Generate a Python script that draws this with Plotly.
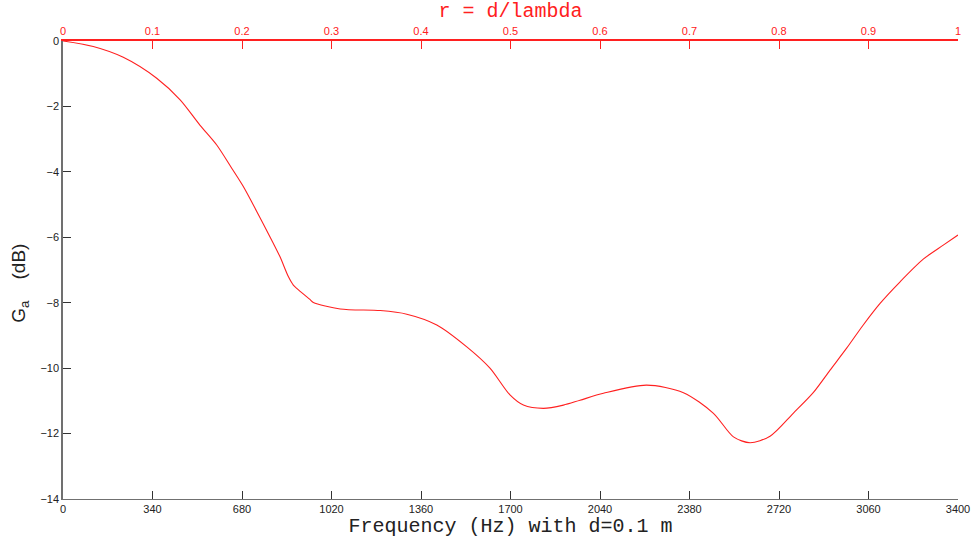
import plotly.graph_objects as go

# Data
freq_hz = [0, 115, 229, 356, 445, 520, 584, 641, 685, 736, 786, 824, 856, 875, 888,
           938, 951, 1053, 1205, 1306, 1420, 1534, 1622, 1698, 1749, 1825, 1901, 1964,
           2053, 2217, 2357, 2471, 2547, 2610, 2686, 2774, 2850, 2914, 2977, 3040,
           3104, 3180, 3268, 3344, 3400]
gain_db = [0, -0.17, -0.50, -1.14, -1.80, -2.57, -3.18, -3.89, -4.45, -5.21, -5.98,
           -6.59, -7.20, -7.46, -7.56, -7.90, -7.99, -8.19, -8.24, -8.35, -8.68, -9.35,
           -10.0, -10.82, -11.13, -11.23, -11.13, -10.98, -10.77, -10.52, -10.75,
           -11.38, -12.1, -12.28, -12.08, -11.38, -10.75, -10.06, -9.39, -8.68, -8.02,
           -7.36, -6.67, -6.24, -5.93]

x_ticks = [0, 340, 680, 1020, 1360, 1700, 2040, 2380, 2720, 3060, 3400]
y_ticks = [0, -2, -4, -6, -8, -10, -12, -14]
r_ticks = [0, 0.1, 0.2, 0.3, 0.4, 0.5, 0.6, 0.7, 0.8, 0.9, 1]
r_tick_text = ["0", "0.1", "0.2", "0.3", "0.4", "0.5", "0.6", "0.7", "0.8", "0.9", "1"]

RED = "#ff2020"
GRAY = "#707070"
MONO = "Liberation Mono, Courier New, monospace"

fig = go.Figure()
fig.add_trace(go.Scatter(x=freq_hz, y=gain_db, mode="lines",
                         line=dict(color=RED, width=1.1, shape="spline", smoothing=0.8),
                         showlegend=False, hoverinfo="x+y"))
# invisible trace to anchor the top r axis
fig.add_trace(go.Scatter(x=[r_ticks[0], r_ticks[-1]], y=[y_ticks[0], y_ticks[0]],
                         xaxis="x2", mode="lines", line=dict(color="rgba(0,0,0,0)"),
                         showlegend=False, hoverinfo="skip"))

fig.update_layout(
    width=975, height=543,
    margin=dict(l=63, r=17, t=41, b=44),
    plot_bgcolor="white", paper_bgcolor="white",
    font=dict(family="Liberation Sans, Arial, sans-serif", size=11, color="#222"),
    xaxis=dict(
        range=[0, 3400], tickvals=x_ticks, ticktext=[str(v) for v in x_ticks],
        showgrid=False, zeroline=False, showline=True, linecolor=GRAY, linewidth=1,
        ticks="inside", ticklen=8, tickcolor="#333", tickwidth=1,
        tickfont=dict(size=11, color="#222"), automargin=False,
        title=dict(text="Frequency (Hz) with d=0.1 m",
                   font=dict(family=MONO, size=20, color="#222"), standoff=3),
    ),
    xaxis2=dict(
        range=[0, 1], overlaying="x", side="top", anchor="y",
        tickvals=r_ticks, ticktext=r_tick_text,
        showgrid=False, zeroline=False, showline=True, linecolor=RED, linewidth=1.5,
        ticks="inside", ticklen=8, tickcolor=RED, tickwidth=1,
        tickfont=dict(size=11, color=RED), automargin=False,
        title=dict(text="r = d/lambda",
                   font=dict(family=MONO, size=20, color=RED), standoff=2),
    ),
    yaxis=dict(
        range=[-14, 0], tickvals=y_ticks, ticktext=[str(v).replace("-", "\u2212") for v in y_ticks],
        showgrid=False, zeroline=False, showline=True, linecolor=GRAY, linewidth=1.5,
        ticks="inside", ticklen=8, tickcolor="#333", tickwidth=1,
        tickfont=dict(size=11, color="#222"), automargin=False,
        title=dict(text="G<sub>a</sub>&nbsp;&nbsp;&nbsp;&nbsp;(dB)&nbsp;&nbsp;&nbsp;&nbsp;&nbsp;",
                   font=dict(family="Liberation Sans, Arial, sans-serif", size=19, color="#222"),
                   standoff=10),
    ),
)

fig.write_html("out.html")
